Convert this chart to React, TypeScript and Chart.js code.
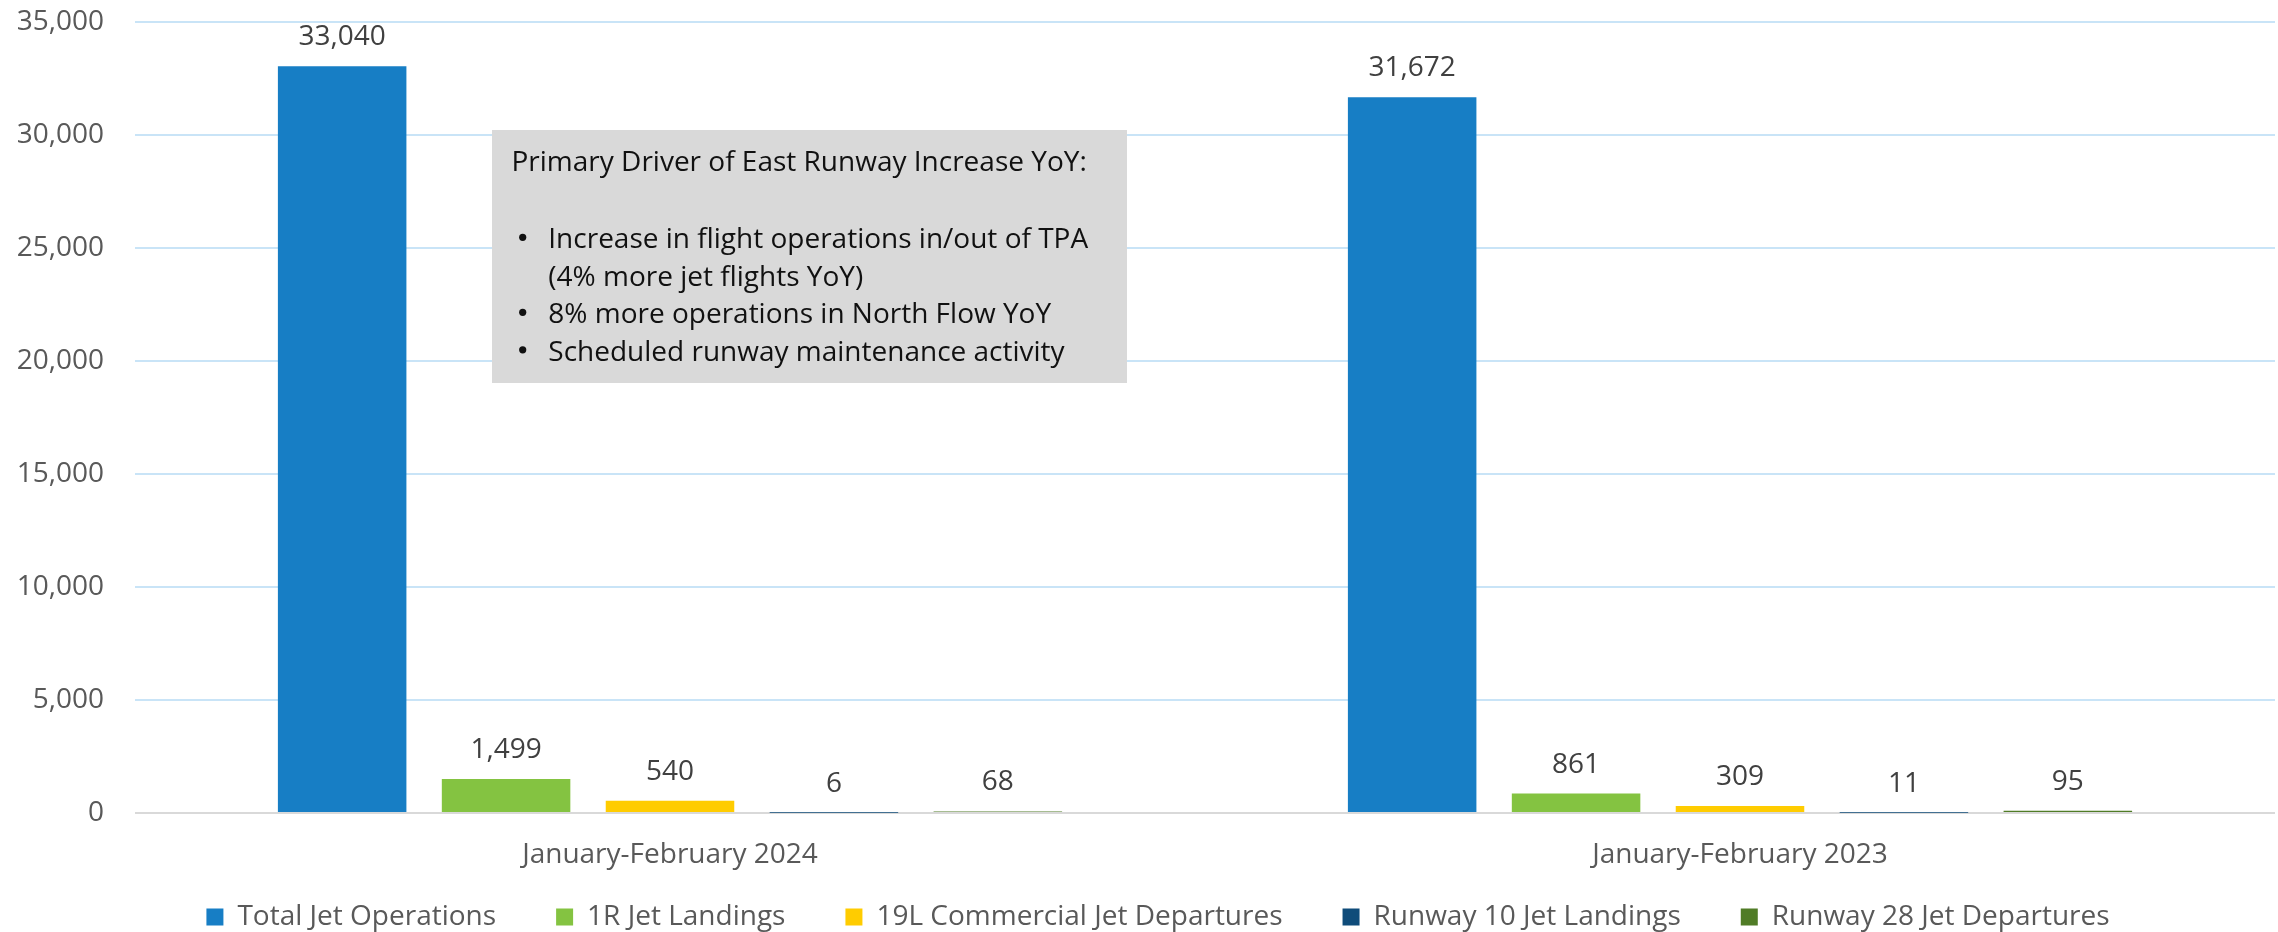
import React, { useEffect, useRef } from 'react';
import { Chart, registerables } from 'chart.js';

Chart.register(...registerables);

// ---- Data ----
const categories = ['January-February 2024', 'January-February 2023'];
const seriesNames = [
  'Total Jet Operations',
  '1R Jet Landings',
  '19L Commercial Jet Departures',
  'Runway 10 Jet Landings',
  'Runway 28 Jet Departures',
];
const totalJetOperations = [33040, 31672];
const jetLandings1R = [1499, 861];
const commercialJetDepartures19L = [540, 309];
const runway10JetLandings = [6, 11];
const runway28JetDepartures = [68, 95];
const seriesColors = ['#177EC5', '#84C341', '#FFCC00', '#0F4C7A', '#507C26'];
const yMin = 0;
const yMax = 35000;
const yStep = 5000;

const noteTitle = 'Primary Driver of East Runway Increase YoY:';
const noteBullets = [
  ['Increase in flight operations in/out of TPA', '(4% more jet flights YoY)'],
  ['8% more operations in North Flow YoY'],
  ['Scheduled runway maintenance activity'],
];

const FONT = "'Open Sans', sans-serif";
const fmt = (v: number) => v.toLocaleString('en-US');

const dataLabelPlugin = {
  id: 'dataLabels',
  afterDatasetsDraw(chart: any) {
    const ctx = chart.ctx;
    ctx.save();
    ctx.font = `28px ${FONT}`;
    ctx.fillStyle = '#404040';
    ctx.textAlign = 'center';
    ctx.textBaseline = 'middle';
    chart.data.datasets.forEach((ds: any, i: number) => {
      const meta = chart.getDatasetMeta(i);
      meta.data.forEach((el: any, j: number) => {
        ctx.fillText(fmt(ds.data[j]), el.x, el.y - 29);
      });
    });
    ctx.restore();
  },
};

// Centre the legend like the original and let the category labels
// draw below the (intentionally short) x-axis box without being clipped.
const layoutTweakPlugin = {
  id: 'layoutTweak',
  afterLayout(chart: any) {
    const lg = chart.legend;
    if (lg) {
      lg.left += 20.5;
      lg.right += 20.5;
    }
    const xs = chart.scales && chart.scales.x;
    if (xs) {
      xs.bottom = chart.height;
    }
  },
};

const notePlugin = {
  id: 'noteBox',
  afterDraw(chart: any) {
    const ctx = chart.ctx;
    ctx.save();
    ctx.fillStyle = '#D9D9D9';
    ctx.fillRect(492, 130, 635, 253);
    ctx.fillStyle = '#111111';
    ctx.font = `28px ${FONT}`;
    ctx.textBaseline = 'alphabetic';
    ctx.textAlign = 'left';
    ctx.fillText(noteTitle, 511.5, 170.7);
    let y = 248.3;
    noteBullets.forEach((lines) => {
      ctx.beginPath();
      ctx.arc(522.7, y - 11, 3.6, 0, Math.PI * 2);
      ctx.fill();
      lines.forEach((line) => {
        ctx.fillText(line, 548.3, y);
        y += 37.5;
      });
    });
    ctx.restore();
  },
};

export default function App() {
  const canvasRef = useRef<HTMLCanvasElement | null>(null);

  useEffect(() => {
    if (!canvasRef.current) return;
    const seriesValues = [
      totalJetOperations,
      jetLandings1R,
      commercialJetDepartures19L,
      runway10JetLandings,
      runway28JetDepartures,
    ];
    const chart = new Chart(canvasRef.current, {
      type: 'bar',
      data: {
        labels: categories,
        datasets: seriesNames.map((name, i) => ({
          label: name,
          data: seriesValues[i],
          backgroundColor: seriesColors[i],
          borderWidth: 0,
          categoryPercentage: 0.766,
          barPercentage: 0.784,
        })),
      },
      options: {
        animation: false,
        responsive: false,
        devicePixelRatio: 1,
        layout: { padding: { top: 22, left: 0, right: 3, bottom: 0 } },
        plugins: {
          tooltip: { enabled: false },
          legend: {
            position: 'bottom',
            maxHeight: 89,
            labels: {
              boxWidth: 17,
              boxHeight: 17,
              padding: 60,
              color: '#595959',
              font: { size: 28, family: FONT },
            },
          },
        },
        scales: {
          x: {
            grid: { display: false, drawTicks: false },
            border: { display: false },
            ticks: {
              color: '#595959',
              font: { size: 28, family: FONT },
              padding: 25,
              maxRotation: 0,
            },
            afterFit: (scale: any) => {
              scale.height = 30;
            },
          },
          y: {
            min: yMin,
            max: yMax,
            border: { display: false },
            grid: {
              drawTicks: true,
              tickLength: 26,
              tickColor: 'rgba(0,0,0,0)',
              lineWidth: 2,
              color: (c: any) => (c.tick && c.tick.value === 0 ? '#D9D9D9' : '#C9E4F7'),
            },
            ticks: {
              stepSize: yStep,
              color: '#595959',
              font: { size: 28, family: FONT },
              padding: 5,
              callback: (v: any) => fmt(Number(v)),
            },
            afterFit: (scale: any) => {
              scale.width = 135;
            },
          },
        },
      },
      plugins: [dataLabelPlugin, layoutTweakPlugin, notePlugin],
    } as any);
    return () => chart.destroy();
  }, []);

  return (
    <div style={{ position: 'fixed', left: 0, top: 0, width: 2278, height: 932, overflow: 'hidden', background: '#fff' }}>
      <canvas ref={canvasRef} width={2278} height={932} style={{ width: 2278, height: 932, display: 'block' }} />
    </div>
  );
}
